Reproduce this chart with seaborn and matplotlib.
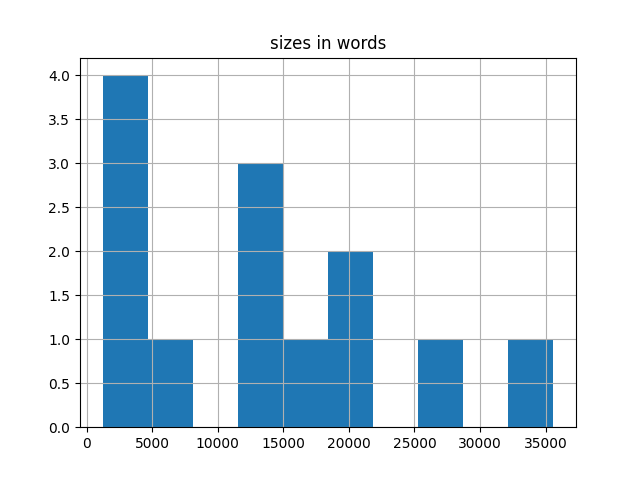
import matplotlib
matplotlib.use("Agg")
import matplotlib.pyplot as plt
import seaborn as sns
import numpy as np

# document sizes in words
sizes = [1222, 2500, 3200, 4000, 6000, 12000, 13000, 14000, 16000,
         19000, 20500, 27000, 35602]
title = "sizes in words"

fig, ax = plt.subplots(figsize=(6.4, 4.8), dpi=100)
sns.histplot(x=sizes, bins=10, ax=ax, color="#1f77b4", alpha=1.0,
             edgecolor="none", linewidth=0)
ax.grid(True)
ax.set_title(title)
ax.set_xlabel("")
ax.set_ylabel("")
fig.savefig("out.png")
